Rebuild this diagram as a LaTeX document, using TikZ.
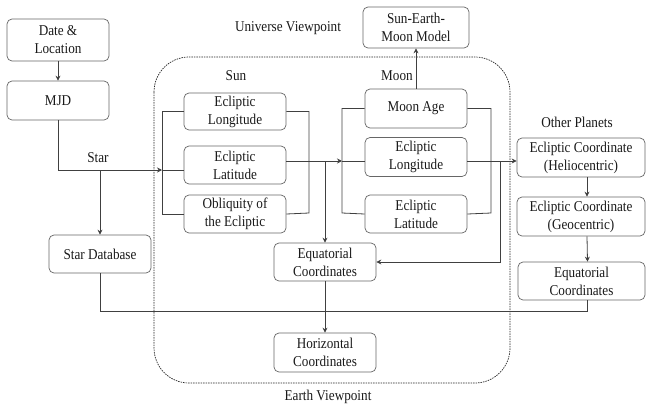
\documentclass[tikz,border=0pt]{standalone}
\usepackage{fontspec}
\setmainfont{Liberation Serif}[FakeStretch=0.88]
\usetikzlibrary{arrows.meta}
\begin{document}
\begin{tikzpicture}[x=1pt,y=-1pt,
  box/.style={draw=black!60, line width=0.7pt, rounded corners=5pt, align=center, inner sep=0pt,
    font=\fontsize{15}{18}\selectfont, text=black!90, minimum width=102pt},
  lbl/.style={font=\fontsize{15}{18}\selectfont, text=black!90, inner sep=0pt},
  ln/.style={draw=black!75, line width=0.8pt},
  arr/.style={ln, -{Stealth[length=5pt,width=5pt]}}]
\useasboundingbox (0,0) rectangle (646,405);
% dashed frame
\draw[black!85, line width=0.7pt, dash pattern=on 1.5pt off 1pt, rounded corners=35pt] (154,57) rectangle (510,383);
% labels
\node[lbl] (univ) at (288,28) {Universe Viewpoint};
\node[lbl] (earth) at (328,397) {Earth Viewpoint};
\node[lbl] (sunl) at (236,76) {Sun};
\node[lbl] (moonl) at (397,76) {Moon};
\node[lbl] (starl) at (98,158) {Star};
\node[lbl] (otherl) at (577,122) {Other Planets};
% boxes
\node[box, minimum height=42pt] (date) at (58,40) {Date \&\\Location};
\node[box, minimum height=39pt] (mjd) at (58,100.5) {MJD};
\node[box, minimum height=38pt] (stardb) at (100,254) {Star Database};
\node[box, minimum height=37pt] (sunlon) at (235,111.5) {Ecliptic\\Longitude};
\node[box, minimum height=38pt] (sunlat) at (235,165) {Ecliptic\\Latitude};
\node[box, minimum height=38pt] (sunobl) at (235,214) {Obliquity of\\the Ecliptic};
\node[box, minimum height=38pt] (eqmid) at (325,262) {Equatorial\\Coordinates};
\node[box, minimum height=39pt] (hor) at (325,352.5) {Horizontal\\Coordinates};
\node[box, minimum height=41pt, minimum width=106pt] (sem) at (416,27.5) {Sun-Earth-\\Moon Model};
\node[box, minimum height=39pt] (moonage) at (416,108.5) {Moon Age};
\node[box, minimum height=39pt] (moonlon) at (416,157) {Ecliptic\\Longitude};
\node[box, minimum height=38pt] (moonlat) at (416,214) {Ecliptic\\Latitude};
\node[box, minimum height=39pt, minimum width=128pt] (helio) at (581,157.5) {Ecliptic Coordinate\\(Heliocentric)};
\node[box, minimum height=39pt, minimum width=128pt] (geo) at (581,216.5) {Ecliptic Coordinate\\(Geocentric)};
\node[box, minimum height=38pt, minimum width=127pt] (eqright) at (581.5,281) {Equatorial\\Coordinates};
% junction coordinates
\coordinate (sunin) at (162,170);
\coordinate (starj) at (100,170);
\coordinate (sbl) at (162,214);
\coordinate (sbr) at (309,213);
\coordinate (moonin) at (342,161);
\coordinate (sunj) at (325,161);
\coordinate (mbl) at (342,213);
\coordinate (mbr) at (491,213);
\coordinate (moonj) at (500,161);
\coordinate (botj) at (587.5,311);
% connectors
\draw[arr] (date) -- (mjd);
\draw[arr] (mjd.south) |- (sunin);
\draw[arr] (starj) -- (stardb.north);
\draw[ln] (sunlon.west) -| (sbl) -- (sunobl.west);
\draw[ln] (sunin) -- (sunlat.west |- sunin);
\draw[ln] (sunlon.east) -| (sbr) -- (sunobl.east);
\draw[arr] (sunlat.east |- moonin) -- (moonin);
\draw[arr] (sunj) -- (eqmid.north);
\draw[ln] (moonage.west) -| (mbl) -- (moonlat.west);
\draw[ln] (moonin) -- (moonlon.west |- moonin);
\draw[ln] (moonage.east) -| (mbr) -- (moonlat.east);
\draw[arr] (moonlon.east |- moonin) -- (helio.west |- moonin);
\draw[arr] (moonj) |- (eqmid.east);
\draw[arr] (moonage) -- (sem);
\draw[arr] ([xshift=6pt]helio.south) -- ([xshift=6pt]geo.north);
\draw[arr] ([xshift=6pt]geo.south) -- ([xshift=6pt]eqright.north);
\draw[arr] (eqmid) -- (hor);
\draw[ln] (stardb.south) |- (botj) -- ([xshift=6pt]eqright.south);
\end{tikzpicture}
\end{document}
